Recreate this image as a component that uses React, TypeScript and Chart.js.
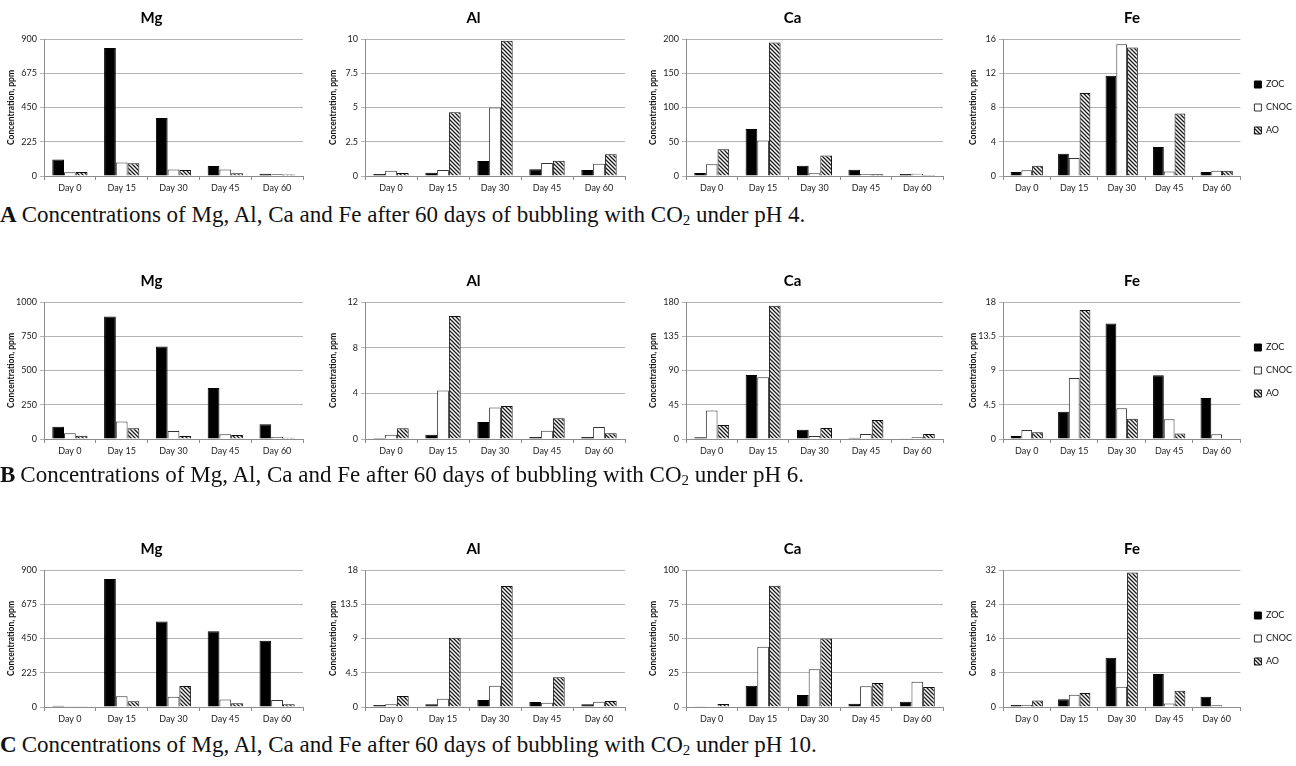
import React, { useEffect, useRef } from 'react';
import { Chart, registerables } from 'chart.js';

Chart.register(...registerables);

// ---------- data ----------
const days = ['Day 0', 'Day 15', 'Day 30', 'Day 45', 'Day 60'];
const seriesNames = ['ZOC', 'CNOC', 'AO'];
const elements = ['Mg', 'Al', 'Ca', 'Fe'];

// pH 4
const pH4_Mg_ZOC = [108, 841, 381, 66, 15];
const pH4_Mg_CNOC = [24, 88, 42, 42, 11];
const pH4_Mg_AO = [27, 84, 40, 18, 10];
const pH4_Mg_ticks = [0, 225, 450, 675, 900];

const pH4_Al_ZOC = [0.15, 0.24, 1.1, 0.49, 0.44];
const pH4_Al_CNOC = [0.39, 0.44, 5.0, 0.95, 0.9];
const pH4_Al_AO = [0.22, 4.65, 9.88, 1.12, 1.59];
const pH4_Al_ticks = [0, 2.5, 5, 7.5, 10];

const pH4_Ca_ZOC = [4.4, 68.5, 15, 9.3, 3];
const pH4_Ca_CNOC = [17, 52, 4, 3, 3.4];
const pH4_Ca_AO = [39, 195, 30, 2.4, 1.5];
const pH4_Ca_ticks = [0, 50, 100, 150, 200];

const pH4_Fe_ZOC = [0.48, 2.6, 11.7, 3.4, 0.48];
const pH4_Fe_CNOC = [0.68, 2.1, 15.4, 0.52, 0.6];
const pH4_Fe_AO = [1.2, 9.7, 15.0, 7.3, 0.6];
const pH4_Fe_ticks = [0, 4, 8, 12, 16];

// pH 6
const pH6_Mg_ZOC = [90, 895, 675, 372, 108];
const pH6_Mg_CNOC = [42, 127, 59, 34, 15];
const pH6_Mg_AO = [24, 78, 22, 29, 10];
const pH6_Mg_ticks = [0, 250, 500, 750, 1000];

const pH6_Al_ZOC = [0.09, 0.38, 1.5, 0.18, 0.18];
const pH6_Al_CNOC = [0.38, 4.25, 2.76, 0.73, 1.06];
const pH6_Al_AO = [0.94, 10.77, 2.88, 1.82, 0.5];
const pH6_Al_ticks = [0, 4, 8, 12];

const pH6_Ca_ZOC = [2.2, 84, 12.3, 1.8, 0.9];
const pH6_Ca_CNOC = [37.4, 81, 4, 6.6, 2.2];
const pH6_Ca_AO = [18.5, 175, 14.5, 25, 6.6];
const pH6_Ca_ticks = [0, 45, 90, 135, 180];

const pH6_Fe_ZOC = [0.41, 3.58, 15.19, 8.39, 5.4];
const pH6_Fe_CNOC = [1.18, 8.02, 4.04, 2.58, 0.63];
const pH6_Fe_AO = [0.9, 16.96, 2.67, 0.73, 0];
const pH6_Fe_ticks = [0, 4.5, 9, 13.5, 18];

// pH 10
const pH10_Mg_ZOC = [8.8, 841, 562, 498, 435];
const pH10_Mg_CNOC = [4.4, 70, 68, 50, 46];
const pH10_Mg_AO = [2, 37, 138, 24, 18];
const pH10_Mg_ticks = [0, 225, 450, 675, 900];

const pH10_Al_ZOC = [0.26, 0.35, 0.92, 0.66, 0.35];
const pH10_Al_CNOC = [0.35, 1.1, 2.8, 0.57, 0.7];
const pH10_Al_AO = [1.45, 9.09, 15.9, 3.9, 0.79];
const pH10_Al_ticks = [0, 4.5, 9, 13.5, 18];

const pH10_Ca_ZOC = [0.2, 15.6, 8.8, 2.4, 3.9];
const pH10_Ca_CNOC = [0.3, 43.9, 27.6, 15.1, 18.5];
const pH10_Ca_AO = [2.2, 88.5, 50, 17.6, 14.6];
const pH10_Ca_ticks = [0, 25, 50, 75, 100];

const pH10_Fe_ZOC = [0.48, 1.82, 11.5, 7.7, 2.4];
const pH10_Fe_CNOC = [0.48, 2.85, 4.75, 0.8, 0.4];
const pH10_Fe_AO = [1.5, 3.25, 31.4, 3.8, 0];
const pH10_Fe_ticks = [0, 8, 16, 24, 32];

const captionLetters = ['A', 'B', 'C'];
const captionPH = ['4', '6', '10'];

// ---------- layout ----------
const rowTops = [0, 263, 531];
const captionTops = [202, 462, 732];
const colLefts = [0, 322, 642, 962];
const colYWidths = [44, 43, 44, 41];
const colWidths = [320, 320, 318, 340];
const colPadRight = [17, 17, 17, 0];
const CANVAS_H = 200;

const FONT = 'Lato, "Open Sans", "DejaVu Sans", sans-serif';

let hatchCache: CanvasPattern | null = null;
function getHatch(): CanvasPattern | string {
  if (hatchCache) return hatchCache;
  const c = document.createElement('canvas');
  c.width = 4;
  c.height = 4;
  const g = c.getContext('2d');
  if (!g) return '#777';
  g.fillStyle = '#ffffff';
  g.fillRect(0, 0, 4, 4);
  g.strokeStyle = '#1a1a1a';
  g.lineWidth = 1.3;
  g.beginPath();
  g.moveTo(-1, -1);
  g.lineTo(5, 5);
  g.moveTo(-1, 3);
  g.lineTo(1, 5);
  g.moveTo(3, -1);
  g.lineTo(5, 1);
  g.stroke();
  const p = g.createPattern(c, 'repeat');
  if (!p) return '#777';
  hatchCache = p;
  return p;
}

type Props = {
  left: number;
  top: number;
  width: number;
  yWidth: number;
  padRight: number;
  title: string;
  zoc: number[];
  cnoc: number[];
  ao: number[];
  ticks: number[];
  legend: boolean;
};

function BarPanel(p: Props) {
  const ref = useRef<HTMLCanvasElement | null>(null);
  useEffect(() => {
    if (!ref.current) return;
    const step = p.ticks[1] - p.ticks[0];
    const chart = new Chart(ref.current, {
      type: 'bar',
      data: {
        labels: days,
        datasets: [
          { label: seriesNames[0], data: p.zoc, backgroundColor: '#000', borderColor: '#000', borderWidth: 1 },
          { label: seriesNames[1], data: p.cnoc, backgroundColor: '#fff', borderColor: '#333', borderWidth: 1 },
          { label: seriesNames[2], data: p.ao, backgroundColor: getHatch() as any, borderColor: '#111', borderWidth: 1 },
        ],
      },
      options: {
        animation: false,
        responsive: false,
        maintainAspectRatio: false,
        layout: { padding: { left: 0, right: p.padRight, top: 0, bottom: 0 } },
        datasets: { bar: { barPercentage: 1, categoryPercentage: 0.68 } } as any,
        plugins: {
          title: {
            display: true,
            text: p.title,
            color: '#000',
            font: { family: FONT, size: 15, weight: 'bold' },
            padding: { top: 9, bottom: 12 },
          },
          legend: {
            display: p.legend,
            position: 'right',
            fullSize: false,
            labels: {
              boxWidth: 7,
              boxHeight: 7,
              padding: 14,
              color: '#111',
              font: { family: FONT, size: 9 },
            },
          },
          tooltip: { enabled: false },
        },
        scales: {
          x: {
            grid: { display: true, drawOnChartArea: false, offset: true, tickLength: 4, color: '#8c8c8c' },
            border: { display: true, color: '#8c8c8c' },
            ticks: { font: { family: FONT, size: 9 }, color: '#222', maxRotation: 0, padding: 3 },
            afterFit: (s: any) => { s.height = 24; },
          },
          y: {
            min: p.ticks[0],
            max: p.ticks[p.ticks.length - 1],
            ticks: {
              stepSize: step,
              font: { family: FONT, size: 9 },
              color: '#222',
              padding: 3,
              callback: (v: any) => String(v),
            },
            grid: { color: '#b4b4b4', tickLength: 4 },
            border: { display: true, color: '#8c8c8c' },
            title: {
              display: true,
              text: 'Concentration, ppm',
              color: '#111',
              font: { family: FONT, size: 8.5, weight: 'bold' },
              padding: { top: 6, bottom: 0 },
            },
            afterFit: (s: any) => { s.width = p.yWidth; },
          },
        },
      } as any,
    });
    return () => chart.destroy();
  }, []);
  return (
    <canvas
      ref={ref}
      width={p.width}
      height={CANVAS_H}
      style={{ position: 'absolute', left: p.left, top: p.top, width: p.width, height: CANVAS_H }}
    />
  );
}

const rows = [
  [
    [pH4_Mg_ZOC, pH4_Mg_CNOC, pH4_Mg_AO, pH4_Mg_ticks],
    [pH4_Al_ZOC, pH4_Al_CNOC, pH4_Al_AO, pH4_Al_ticks],
    [pH4_Ca_ZOC, pH4_Ca_CNOC, pH4_Ca_AO, pH4_Ca_ticks],
    [pH4_Fe_ZOC, pH4_Fe_CNOC, pH4_Fe_AO, pH4_Fe_ticks],
  ],
  [
    [pH6_Mg_ZOC, pH6_Mg_CNOC, pH6_Mg_AO, pH6_Mg_ticks],
    [pH6_Al_ZOC, pH6_Al_CNOC, pH6_Al_AO, pH6_Al_ticks],
    [pH6_Ca_ZOC, pH6_Ca_CNOC, pH6_Ca_AO, pH6_Ca_ticks],
    [pH6_Fe_ZOC, pH6_Fe_CNOC, pH6_Fe_AO, pH6_Fe_ticks],
  ],
  [
    [pH10_Mg_ZOC, pH10_Mg_CNOC, pH10_Mg_AO, pH10_Mg_ticks],
    [pH10_Al_ZOC, pH10_Al_CNOC, pH10_Al_AO, pH10_Al_ticks],
    [pH10_Ca_ZOC, pH10_Ca_CNOC, pH10_Ca_AO, pH10_Ca_ticks],
    [pH10_Fe_ZOC, pH10_Fe_CNOC, pH10_Fe_AO, pH10_Fe_ticks],
  ],
];

export default function App() {
  return (
    <div
      style={{
        position: 'fixed',
        left: 0,
        top: 0,
        width: 1296,
        height: 766,
        overflow: 'hidden',
        background: '#fff',
      }}
    >
      {rows.map((row, r) =>
        row.map((d, c) => (
          <BarPanel
            key={`${r}-${c}`}
            left={colLefts[c]}
            top={rowTops[r]}
            width={colWidths[c]}
            yWidth={colYWidths[c]}
            padRight={colPadRight[c]}
            title={elements[c]}
            zoc={d[0]}
            cnoc={d[1]}
            ao={d[2]}
            ticks={d[3]}
            legend={c === 3}
          />
        ))
      )}
      {captionLetters.map((L, i) => (
        <div
          key={L}
          style={{
            position: 'absolute',
            left: 0,
            top: captionTops[i],
            fontFamily: '"Liberation Serif", "Times New Roman", serif',
            fontSize: 23,
            color: '#111',
            whiteSpace: 'nowrap',
            lineHeight: '26px',
          }}
        >
          <span style={{ fontWeight: 'bold', marginRight: 5 }}>{L}</span>
          Concentrations of Mg, Al, Ca and Fe after 60 days of bubbling with CO
          <sub style={{ fontSize: 15, verticalAlign: '-3px', lineHeight: 0 }}>2</sub> under pH {captionPH[i]}.
        </div>
      ))}
    </div>
  );
}
